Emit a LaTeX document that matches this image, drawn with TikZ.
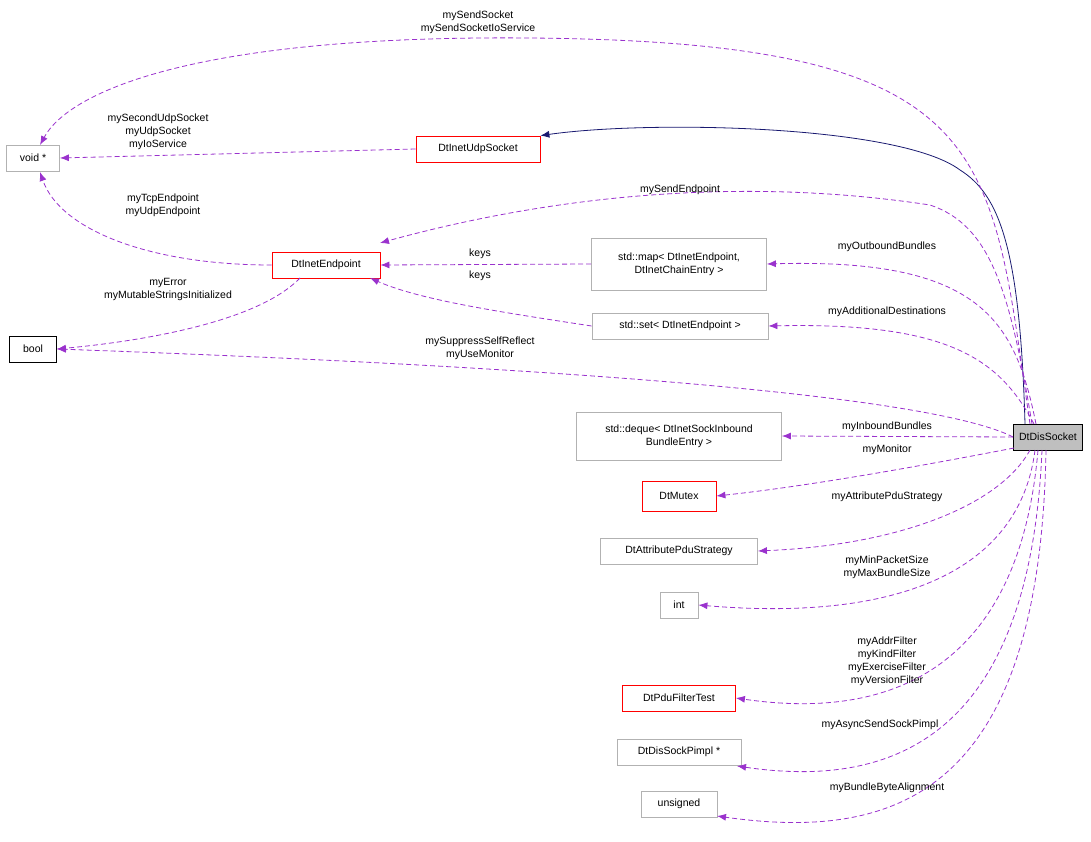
\documentclass[tikz,border=0pt]{standalone}
\usepackage{fontspec}
\setmainfont{Liberation Sans}
\usepackage{xcolor}
\usetikzlibrary{arrows.meta}
\definecolor{member}{HTML}{9A32CD}
\definecolor{inherit}{HTML}{191970}
\tikzset{
  cls/.style={draw=gray!60, fill=white, line width=0.8pt, inner sep=3pt, minimum height=26pt, align=center, font=\fontsize{10.5}{13}\selectfont},
  red cls/.style={cls, draw=red},
  use/.style={dash pattern=on 5pt off 3pt, member, line width=0.8pt, -{Latex[length=9pt,width=7pt]}},
  lbl/.style={align=center, font=\fontsize{10.5}{13}\selectfont, inner sep=1pt}
}
\begin{document}
\begin{tikzpicture}[x=1pt,y=-1pt]
  \useasboundingbox (0,0) rectangle (1091,842);

    % classes
    \node [cls, minimum width=53pt] (void) at (33,158){void *};
    \node [red cls, minimum width=124pt] (udp) at (478,149){DtInetUdpSocket};
    \node [red cls, minimum width=108pt] (endp) at (326,265){DtInetEndpoint};
    \node [cls, draw=black, minimum width=47pt] (bool) at (33,349){bool};
    \node [cls, minimum width=175pt, minimum height=52pt] (map) at (679,264){std::map\textless{} DtInetEndpoint,\\DtInetChainEntry \textgreater};
    \node [cls, minimum width=176pt] (set) at (680,326){std::set\textless{} DtInetEndpoint \textgreater};
    \node [cls, draw=black, fill=gray!50, minimum width=69pt] (dis) at (1048,437){DtDisSocket};
    \node [cls, minimum width=205pt, minimum height=48pt] (deque) at (679,436){std::deque\textless{} DtInetSockInbound\\BundleEntry \textgreater};
    \node [red cls, minimum width=74pt, minimum height=30pt] (mutex) at (679,496){DtMutex};
    \node [cls, minimum width=157pt] (attr) at (679,551){DtAttributePduStrategy};
    \node [cls, minimum width=38pt] (int) at (679,605){int};
    \node [red cls, minimum width=113pt] (filter) at (679,698){DtPduFilterTest};
    \node [cls, minimum width=124pt] (pimpl) at (679,752){DtDisSockPimpl *};
    \node [cls, minimum width=76pt] (uns) at (679,804){unsigned};

    % base class
    \draw [inherit, line width=0.8pt, -{Latex[length=9pt,width=7pt]}] (1025,424) .. controls (1020,250) and (1000,195) .. (960,170) .. controls (900,125) and (650,120) .. (udp.north east);

    % members
    \draw [use] (1030,424) .. controls (990,150) and (1000,42) .. (530,38) .. controls (200,35) and (70,90) .. (40,145);
    \draw [use] (udp.west) -- (void.east);
    \draw [use] (endp.west) .. controls (150,265) and (60,230) .. (40,172);
    \draw [use] (300,278) .. controls (250,330) and (100,345) .. (bool.east);
    \draw [use] (1032,424) .. controls (1010,290) and (990,225) .. (930,205) .. controls (700,170) and (500,210) .. (380,243);
    \draw [use] (map.west) -- (endp.east);
    \draw [use] (set.west) .. controls (500,312) and (420,300) .. (370,278);
    \draw [use] (1036,424) .. controls (1015,320) and (980,258) .. (map.east);
    \draw [use] (1034,424) .. controls (1000,360) and (950,322) .. (set.east);
    \draw [use] (dis.west) .. controls (950,405) and (700,372) .. (bool.east);
    \draw [use] (dis.west) -- (deque.east);
    \draw [use] (1014,448) .. controls (900,470) and (800,487) .. (mutex.east);
    \draw [use] (1030,450) .. controls (1000,505) and (900,545) .. (attr.east);
    \draw [use] (1035,450) .. controls (1020,570) and (900,622) .. (int.east);
    \draw [use] (1038,450) .. controls (1020,660) and (900,722) .. (filter.east);
    \draw [use] (1042,450) .. controls (1030,730) and (900,790) .. (737,766);
    \draw [use] (1046,450) .. controls (1040,790) and (900,842) .. (717,816);

    % label
    \node [lbl] (l1) at (478,22){mySendSocket\\mySendSocketIoService};
    \node [lbl] (l2) at (158,132){mySecondUdpSocket\\myUdpSocket\\myIoService};
    \node [lbl] (l3) at (163,205){myTcpEndpoint\\myUdpEndpoint};
    \node [lbl] (l4) at (168,289){myError\\myMutableStringsInitialized};
    \node [lbl] (l5) at (680,190){mySendEndpoint};
    \node [lbl] (l6) at (480,254){keys};
    \node [lbl] (l7) at (480,276){keys};
    \node [lbl] (l8) at (887,247){myOutboundBundles};
    \node [lbl] (l9) at (887,312){myAdditionalDestinations};
    \node [lbl] (l10) at (480,348){mySuppressSelfReflect\\myUseMonitor};
    \node [lbl] (l11) at (887,427){myInboundBundles};
    \node [lbl] (l12) at (887,450){myMonitor};
    \node [lbl] (l13) at (887,497){myAttributePduStrategy};
    \node [lbl] (l14) at (887,567){myMinPacketSize\\myMaxBundleSize};
    \node [lbl] (l15) at (887,661){myAddrFilter\\myKindFilter\\myExerciseFilter\\myVersionFilter};
    \node [lbl] (l16) at (880,725){myAsyncSendSockPimpl};
    \node [lbl] (l17) at (887,788){myBundleByteAlignment};
\end{tikzpicture}
\end{document}
